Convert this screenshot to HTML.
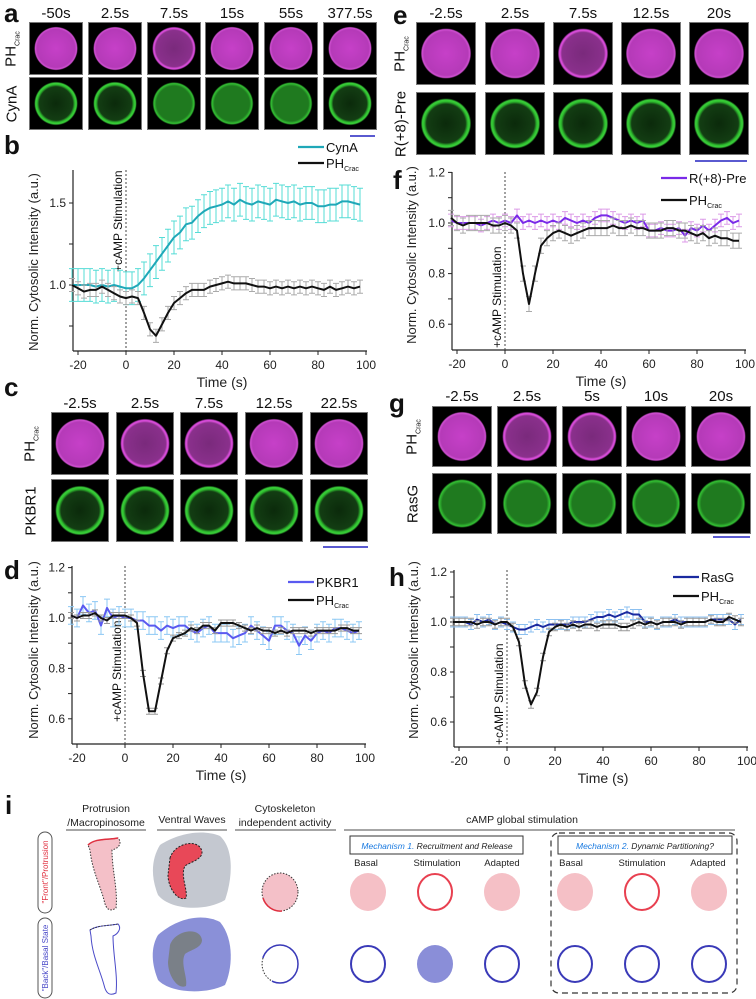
<!DOCTYPE html>
<html><head><meta charset="utf-8">
<style>
body{margin:0;background:#fff;}
#root{position:relative;width:756px;height:999px;overflow:hidden;font-family:"Liberation Sans",sans-serif;color:#111;}
svg text{font-family:"Liberation Sans",sans-serif;}
.cell{position:absolute;background:#000;border:1px solid #777;box-sizing:border-box;}
.mag{background:radial-gradient(circle at 50% 50%,#c640c8 0,#b53ab8 52%,#d050d2 57%,#000 60%),#000;}
.magr{background:radial-gradient(circle at 50% 50%,#7a2a7c 0,#8a308c 50%,#e050e0 55%,#c040c4 57%,#000 60%),#000;}
.grn{background:radial-gradient(circle at 50% 50%,#0b2a0b 0,#133d13 46%,#2fbf2f 52%,#3ad03a 56%,#000 60%),#000;}
.grnf{background:radial-gradient(circle at 50% 50%,#1f7a1f 0,#1f7a1f 48%,#34c234 55%,#000 59%),#000;}
.lbl{position:absolute;font-size:15px;text-align:center;}
.big{position:absolute;font-size:26px;font-weight:bold;}
.rot{position:absolute;transform:translate(-50%,-50%) rotate(-90deg);white-space:nowrap;font-size:15px;}
.bar{position:absolute;height:2px;background:#5a5ad0;}
</style></head>
<body><div id="root"></div>
<svg id="svg" width="756" height="999" style="position:absolute;left:0;top:0;font-family:'Liberation Sans',sans-serif"></svg>
<script>
// ---- chart data ----
const tStart = -22.5;
const tStep = 2.5;
const xTickVals = [-20, 0, 20, 40, 60, 80, 100];
const bCynA = [1.0,1.0,1.0,1.0,0.99,1.0,0.99,1.0,0.99,0.98,0.98,1.0,1.04,1.09,1.14,1.19,1.24,1.29,1.32,1.37,1.38,1.42,1.45,1.47,1.48,1.49,1.51,1.49,1.52,1.50,1.49,1.51,1.50,1.49,1.52,1.51,1.50,1.51,1.49,1.50,1.50,1.48,1.48,1.49,1.49,1.51,1.51,1.50,1.49];
const bPH = [1.0,0.98,0.96,0.97,0.97,0.99,0.97,0.95,0.93,0.92,0.93,0.92,0.83,0.73,0.69,0.76,0.83,0.89,0.92,0.95,0.97,0.97,0.97,0.99,1.0,1.01,1.02,1.01,1.01,1.01,1.0,0.99,0.99,0.98,0.99,0.98,0.99,0.98,0.99,0.98,0.99,0.98,0.97,0.99,0.97,0.98,0.99,0.98,0.99];
const dPKBR1 = [1.01,1.0,1.05,1.02,1.03,0.97,1.04,1.0,1.01,1.0,1.0,0.99,0.99,0.97,0.97,0.95,0.97,0.96,0.97,0.97,0.95,0.94,0.96,0.97,0.94,0.94,0.94,0.92,0.93,0.94,0.97,0.95,0.93,0.91,0.97,0.97,0.95,0.94,0.89,0.93,0.91,0.94,0.95,0.94,0.96,0.96,0.95,0.94,0.95];
const dPH = [1.01,1.0,1.01,1.01,1.02,1.0,0.99,1.01,1.01,1.01,1.0,0.98,0.78,0.63,0.63,0.75,0.87,0.92,0.93,0.94,0.96,0.95,0.97,0.97,0.95,0.98,0.98,0.98,0.97,0.96,0.95,0.96,0.95,0.95,0.94,0.95,0.94,0.95,0.95,0.95,0.94,0.95,0.95,0.95,0.95,0.96,0.96,0.95,0.95];
const fR8 = [1.01,1.0,1.0,1.0,1.0,0.99,1.0,1.01,1.0,1.01,1.0,1.03,1.0,1.01,1.0,1.01,1.0,1.01,1.0,1.02,1.01,1.0,1.01,1.0,1.02,1.03,1.03,1.02,1.01,1.0,1.01,1.0,1.01,0.97,0.97,0.98,0.97,0.97,0.98,0.95,0.98,0.97,0.99,0.97,0.99,1.01,1.02,1.0,1.01];
const fPH = [1.02,1.0,0.99,1.0,1.0,1.0,1.0,0.99,0.99,1.0,0.99,0.97,0.80,0.68,0.80,0.91,0.94,0.96,0.97,0.96,0.95,0.96,0.97,0.98,0.98,0.98,0.98,0.99,0.98,0.98,0.99,0.98,0.98,0.97,0.97,0.97,0.98,0.98,0.97,0.97,0.96,0.95,0.96,0.94,0.95,0.94,0.94,0.93,0.93];
const hRasG = [1.0,1.0,1.0,0.99,1.01,1.0,1.01,0.99,1.0,0.99,0.98,0.97,0.97,0.98,0.99,0.98,0.99,0.99,0.99,0.99,1.0,1.0,1.0,1.01,1.02,1.02,1.03,1.02,1.03,1.04,1.03,1.03,1.0,1.0,0.99,1.0,1.0,1.01,1.0,1.0,1.0,1.0,1.0,1.01,1.01,1.01,1.01,0.99,1.01];
const hPH = [1.0,1.0,1.0,1.0,0.99,1.0,1.0,0.99,1.0,1.0,0.98,0.92,0.75,0.67,0.72,0.86,0.96,0.98,0.99,0.98,0.99,0.98,0.99,0.99,0.98,0.99,0.99,0.99,0.98,0.98,0.99,1.0,0.99,1.0,0.99,1.0,1.0,1.0,0.99,1.0,1.0,1.0,1.0,1.01,1.0,1.0,1.02,1.01,1.0];
const bYTicks = [0.75, 1.0, 1.25, 1.5];
const bYLabels = ["", "1.0", "", "1.5"];
const dYTicks = [0.6, 0.7, 0.8, 0.9, 1.0, 1.1, 1.2];
const dYLabels = ["0.6", "", "0.8", "", "1.0", "", "1.2"];

const NS = "http://www.w3.org/2000/svg";
const svg = document.getElementById('svg');
const root = document.getElementById('root');
function mk(tag, attrs, parent, text){
  const e = document.createElementNS(NS, tag);
  for (const k in attrs) e.setAttribute(k, attrs[k]);
  if (text !== undefined) e.textContent = text;
  (parent || svg).appendChild(e);
  return e;
}

function chart(c){
  const g = mk('g', {});
  
  
  const X = t => c.x0 + t * 2.4;
  const Y = v => c.y1 - (v - 1) * c.k;
  const ya = mk('line', {x1:c.ax, y1:c.yTop, x2:c.ax, y2:c.yBot, stroke:'#222', 'stroke-width':1.2}, g);
  
  
  const xa = mk('line', {x1:c.ax, y1:c.yBot, x2:X(100)+1, y2:c.yBot, stroke:'#222', 'stroke-width':1.2}, g);
  
  
  xTickVals.forEach(t => {
    mk('line', {x1:X(t), y1:c.yBot, x2:X(t), y2:c.yBot+4, stroke:'#222'}, g);
    const tl = mk('text', {x:X(t), y:c.yBot+18, 'font-size':12, 'text-anchor':'middle', fill:'#222'}, g, String(t));
    
    
  });
  c.yTicks.forEach((v, i) => {
    mk('line', {x1:c.ax-4, y1:Y(v), x2:c.ax, y2:Y(v), stroke:'#222'}, g);
    if (c.yLabels[i]) {
      const yl = mk('text', {x:c.ax-7, y:Y(v)+4, 'font-size':12, 'text-anchor':'end', fill:'#222'}, g, c.yLabels[i]);
      
      
    }
  });
  const xt = mk('text', {x:X(40), y:c.yBot+36, 'font-size':14, 'text-anchor':'middle', fill:'#222'}, g, 'Time (s)');
  
  
  const ytl = mk('text', {x:0, y:0, 'font-size':13, 'text-anchor':'middle', fill:'#222', transform:`translate(${c.ytx},${c.yty}) rotate(-90)`}, g, 'Norm. Cytosolic Intensity (a.u.)');
  
  
  const sl = mk('line', {x1:X(0), y1:c.yTop, x2:X(0), y2:c.yBot, stroke:'#444', 'stroke-dasharray':'2,2'}, g);
  
  
  const st = mk('text', {x:0, y:0, 'font-size':12, 'text-anchor':'start', fill:'#111', transform:`translate(${X(0)-4},${c.stimBot}) rotate(-90)`}, g, '+cAMP Stimulation');
  
  
  c.series.forEach(s => {
    const sg = mk('g', {}, g);
    
    
    let d = '';
    s.data.forEach((v, i) => {
      const t = tStart + i * tStep;
      const x = X(t), y1 = Y(v - s.err), y2 = Y(v + s.err);
      const eb = mk('path', {d:`M${x},${y1}V${y2}M${x-3},${y1}H${x+3}M${x-3},${y2}H${x+3}`, stroke:s.errColor, 'stroke-width':1, fill:'none'}, sg);
      
      
      d += (i ? 'L' : 'M') + x.toFixed(1) + ',' + Y(v).toFixed(1);
    });
    const ln = mk('path', {d, stroke:s.color, 'stroke-width':s.w || 2, fill:'none', 'stroke-linejoin':'round'}, sg);
    
    
  });
  c.series.forEach((s, i) => {
    const y = c.legY + i * c.legDy;
    const lg = mk('g', {}, g);
    
    
    mk('line', {x1:c.legX, y1:y, x2:c.legX+26, y2:y, stroke:s.color, 'stroke-width':2.2}, lg);
    const tx = mk('text', {x:c.legX+28, y:y+5, 'font-size':13, fill:'#111'}, lg, s.label);
    if (s.sub) mk('tspan', {'font-size':7, dy:3}, tx, s.sub);
  });
}

chart({name:'chart-b', ax:73, x0:126, y1:285, k:164, yTop:170, yBot:351, yTicks:bYTicks, yLabels:bYLabels, ytx:38, yty:262, stimBot:272, legX:298, legY:147, legDy:16,
  series:[{name:'series-cyna', data:bCynA, err:0.1, color:'#1fa8b8', errColor:'#55dcd6', label:'CynA'},
          {name:'series-phcrac', data:bPH, err:0.04, color:'#111', errColor:'#aaa', label:'PH', sub:'Crac'}]});
chart({name:'chart-d', ax:72, x0:125, y1:618, k:252, yTop:566, yBot:744, yTicks:dYTicks, yLabels:dYLabels, ytx:38, yty:650, stimBot:722, legX:288, legY:582, legDy:18,
  series:[{name:'series-pkbr1', data:dPKBR1, err:0.035, color:'#5a5af0', errColor:'#8cc8f4', label:'PKBR1'},
          {name:'series-phcrac', data:dPH, err:0.012, color:'#111', errColor:'#999', label:'PH', sub:'Crac'}]});
chart({name:'chart-f', ax:452, x0:505, y1:223, k:253, yTop:172, yBot:350, yTicks:dYTicks, yLabels:dYLabels, ytx:416, yty:255, stimBot:348, legX:661, legY:178, legDy:22,
  series:[{name:'series-r8-pre', data:fR8, err:0.025, color:'#7a2ae8', errColor:'#dc9ae8', label:'R(+8)-Pre'},
          {name:'series-phcrac', data:fPH, err:0.03, color:'#111', errColor:'#aaa', label:'PH', sub:'Crac'}]});
chart({name:'chart-h', ax:454, x0:507, y1:622, k:250, yTop:570, yBot:747, yTicks:dYTicks, yLabels:dYLabels, ytx:418, yty:650, stimBot:745, legX:673, legY:577, legDy:19,
  series:[{name:'series-rasg', data:hRasG, err:0.02, color:'#1a2aa0', errColor:'#8cc0f0', label:'RasG'},
          {name:'series-phcrac', data:hPH, err:0.015, color:'#111', errColor:'#999', label:'PH', sub:'Crac'}]});

function el(cls, style, name, text){
  const d = document.createElement('div');
  d.className = cls; d.style.cssText = style;
  
  
  if (text !== undefined) d.innerHTML = text;
  root.appendChild(d); return d;
}
function panel(p){
  p.xs.forEach((x, i) => {
    el('lbl', `left:${x-10}px;width:${p.w+20}px;top:${p.ly}px`, 'time-label', p.times[i]);
    el('cell ' + p.c1[i], `left:${x}px;top:${p.r1}px;width:${p.w}px;height:${p.h}px`, 'cell-image-ph');
    el('cell ' + p.c2[i], `left:${x}px;top:${p.r2}px;width:${p.w}px;height:${p.h}px`, 'cell-image-marker');
  });
  el('rot', `left:${p.rx}px;top:${p.r1+p.h/2}px`, 'row-label', 'PH<sub style="font-size:7px">Crac</sub>');
  el('rot', `left:${p.rx}px;top:${p.r2+p.h/2}px`, 'row-label', p.marker);
  el('bar', `left:${p.sb[0]}px;top:${p.sb[2]}px;width:${p.sb[1]-p.sb[0]}px`, 'scale-bar');
}
panel({xs:[29,88,147,205,264,323], w:54, h:53, r1:22, r2:77, ly:5, times:['-50s','2.5s','7.5s','15s','55s','377.5s'],
  c1:['mag','mag','magr','mag','mag','mag'], c2:['grn','grn','grnf','grnf','grnf','grn'], rx:12, marker:'CynA', sb:[350,375,135]});
panel({xs:[51,116,180,245,310], w:58, h:63, r1:412, r2:479, ly:395, times:['-2.5s','2.5s','7.5s','12.5s','22.5s'],
  c1:['mag','magr','magr','mag','mag'], c2:['grn','grn','grn','grn','grn'], rx:31, marker:'PKBR1', sb:[323,368,546]});
panel({xs:[416,485,553,621,689], w:60, h:63, r1:22, r2:92, ly:5, times:['-2.5s','2.5s','7.5s','12.5s','20s'],
  c1:['mag','mag','magr','mag','mag'], c2:['grn','grn','grn','grn','grn'], rx:401, marker:'R(+8)-Pre', sb:[695,747,160]});
panel({xs:[432,497,562,626,691], w:60, h:61, r1:406, r2:473, ly:388, times:['-2.5s','2.5s','5s','10s','20s'],
  c1:['mag','magr','magr','mag','mag'], c2:['grnf','grnf','grnf','grnf','grnf'], rx:413, marker:'RasG', sb:[713,750,536]});

[['a',4,-2],['b',4,130],['c',4,372],['d',4,555],['e',393,0],['f',393,165],['g',389,388],['h',389,562],['i',5,790]].forEach(([t,x,y]) => {
  el('big', `left:${x}px;top:${y}px`, 'panel-label-' + t, t);
});

const iG = mk('g', {});


function txt(x, y, s, opts){ const t = mk('text', Object.assign({x, y, 'font-size':11, 'text-anchor':'middle', fill:'#222'}, opts||{}), iG, s);   return t; }
txt(106, 812, 'Protrusion', {'font-size':10.5}); txt(106, 826, '/Macropinosome', {'font-size':10.5});
txt(192, 823, 'Ventral Waves', {'font-size':10.5});
txt(285, 812, 'Cytoskeleton', {'font-size':10.5}); txt(285, 826, 'independent activity', {'font-size':10.5});
txt(522, 823, 'cAMP global stimulation', {'font-size':10.5});
[[66,146],[157,227],[235,336],[344,735]].forEach(([a,b]) => mk('line', {x1:a, y1:830, x2:b, y2:830, stroke:'#888', 'stroke-width':1.5}, iG));
mk('rect', {x:350, y:836, width:173, height:18, fill:'none', stroke:'#333'}, iG);
txt(437, 849, '', {'font-size':8.5}).innerHTML = '<tspan fill="#1a7ae0" font-style="italic">Mechanism 1.</tspan><tspan font-style="italic"> Recruitment and Release</tspan>';
mk('rect', {x:551, y:833, width:186, height:160, rx:8, fill:'none', stroke:'#333', 'stroke-dasharray':'6,4', 'stroke-width':1.2}, iG);
mk('rect', {x:558, y:836, width:174, height:18, fill:'none', stroke:'#333'}, iG);
txt(645, 849, '', {'font-size':8.5}).innerHTML = '<tspan fill="#1a7ae0" font-style="italic">Mechanism 2.</tspan><tspan font-style="italic"> Dynamic Partitioning?</tspan>';
[[366,'Basal'],[437,'Stimulation'],[502,'Adapted'],[571,'Basal'],[642,'Stimulation'],[708,'Adapted']].forEach(([x,s]) => txt(x, 866, s, {'font-size':9.5}));
mk('rect', {x:38, y:832, width:14, height:81, rx:7, fill:'none', stroke:'#555'}, iG);
mk('rect', {x:38, y:918, width:14, height:80, rx:7, fill:'none', stroke:'#555'}, iG);
txt(0, 0, '"Front"/Protrusion', {'font-size':8, fill:'#e03040', transform:'translate(48,872) rotate(-90)'});
txt(0, 0, '"Back"/Basal State', {'font-size':8, fill:'#4a4ac8', transform:'translate(48,958) rotate(-90)'});
mk('path', {d:'M88,845 C95,838 108,840 118,838 C122,842 120,848 112,850 C112,870 118,890 116,908 C110,912 106,910 104,900 C100,885 92,870 90,850 Z', fill:'#f4c0c8', stroke:'#333', 'stroke-dasharray':'1.5,1.5'}, iG);
mk('path', {d:'M88,845 C95,838 108,840 118,838', fill:'none', stroke:'#e03040', 'stroke-width':1.5}, iG);
mk('path', {d:'M90,930 C98,925 108,926 118,924 C122,928 118,934 113,936 C113,955 118,975 116,993 C110,996 106,994 104,985 C100,970 92,955 91,936 Z', fill:'none', stroke:'#4a4ac8'}, iG);
mk('path', {d:'M90,930 C98,925 108,926 118,924', fill:'none', stroke:'#333', 'stroke-dasharray':'1.5,1.5'}, iG);
mk('path', {d:'M160,845 C175,835 200,828 220,836 C235,850 232,880 225,900 C205,912 170,910 158,895 C150,875 152,858 160,845 Z', fill:'#c4c8d0'}, iG);
mk('path', {d:'M170,858 C175,842 200,838 202,852 C202,860 190,862 185,866 C180,875 188,890 186,898 C178,902 168,888 168,875 Z', fill:'#e84858', stroke:'#222', 'stroke-dasharray':'2,1.5'}, iG);
mk('path', {d:'M158,935 C175,920 200,912 220,922 C235,940 232,970 225,985 C205,995 170,993 158,980 C150,960 152,945 158,935 Z', fill:'#8a90d8'}, iG);
mk('path', {d:'M170,945 C175,930 200,926 202,940 C202,948 190,950 185,954 C180,963 188,978 186,986 C178,990 168,976 168,962 Z', fill:'#7a8088'}, iG);
mk('ellipse', {cx:280, cy:892, rx:18, ry:19, fill:'#f4c0c8', stroke:'#333', 'stroke-dasharray':'1.5,1.5'}, iG);
mk('path', {d:'M263,898 A18,19 0 0,0 282,911', fill:'none', stroke:'#e03040', 'stroke-width':1.5}, iG);
mk('ellipse', {cx:280, cy:964, rx:18, ry:19, fill:'none', stroke:'#3a3ab8', 'stroke-width':1.5}, iG);
mk('path', {d:'M263,958 A18,19 0 0,0 272,981', fill:'none', stroke:'#fff', 'stroke-width':3}, iG);
mk('path', {d:'M263,958 A18,19 0 0,0 272,981', fill:'none', stroke:'#333', 'stroke-dasharray':'1.5,1.5'}, iG);
[[368,'f'],[435,'o'],[502,'f'],[575,'f'],[642,'o'],[709,'f']].forEach(([x,k]) => {
  mk('ellipse', k==='f' ? {cx:x, cy:892, rx:18, ry:19, fill:'#f5c0c6'} : {cx:x, cy:892, rx:17, ry:18, fill:'none', stroke:'#e84050', 'stroke-width':2}, iG);
});
[[368,'o'],[435,'f'],[502,'o'],[575,'o'],[642,'o'],[709,'o']].forEach(([x,k]) => {
  mk('ellipse', k==='f' ? {cx:x, cy:964, rx:18, ry:19, fill:'#8a8ed8'} : {cx:x, cy:964, rx:17, ry:18, fill:'none', stroke:'#3a3ab8', 'stroke-width':2}, iG);
});
</script>
</body></html>
